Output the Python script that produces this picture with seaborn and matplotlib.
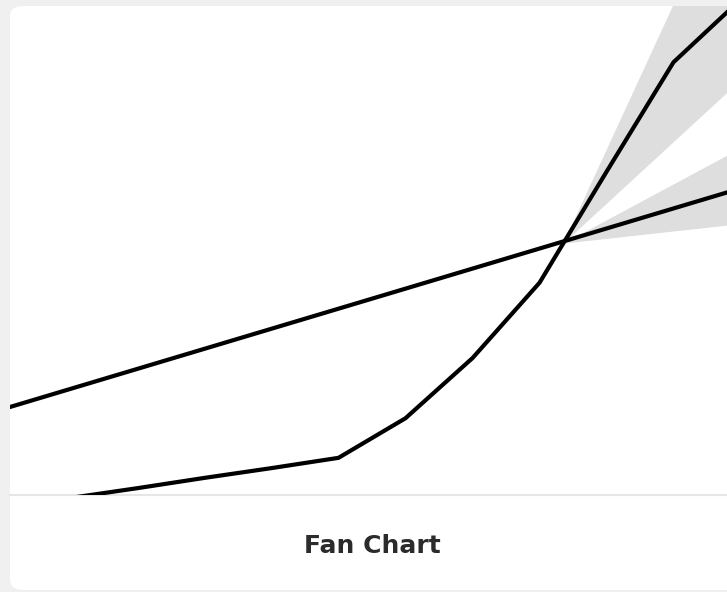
import numpy as np
import pandas as pd
import matplotlib
matplotlib.use("Agg")
import matplotlib.pyplot as plt
import seaborn as sns
from matplotlib.patches import FancyBboxPatch

# Data
periods = [0, 1, 2, 3, 4, 5, 6, 7, 8, 9, 10, 11]
series_a = [17.6, 21.7, 25.8, 29.9, 34.0, 38.1, 42.2, 46.3, 50.4, 54.5, 58.6, 62.7]
series_b = [-2.7, -0.6, 1.4, 3.5, 5.5, 7.6, 15.7, 28.0, 43.4, 66.1, 88.5, 101.3]

# fan ranges, from the forecast origin to the last period
fan_x = [8.35, 11]
fan_b_low = [51.5, 84.9]
fan_b_high = [51.5, 130.3]
fan_a_low = [51.5, 55.5]
fan_a_high = [51.5, 71.0]

df = pd.DataFrame({"period": periods, "A": series_a, "B": series_b})
long = df.melt(id_vars="period", var_name="series", value_name="value")

sns.set_style("white")
W, H = 727, 592
fig = plt.figure(figsize=(W / 100, H / 100), dpi=100)
fig.patch.set_facecolor("#f0f0f0")

# white card behind the axes
card = FancyBboxPatch((10 / W, 2 / H), 740 / W, (586 - 2) / H,
                      boxstyle="round,pad=0,rounding_size=0.018",
                      transform=fig.transFigure, facecolor="white",
                      edgecolor="none", zorder=-5)
fig.patches.append(card)

ax = fig.add_axes([10 / W, (H - 495) / H, 725 / W, 489 / H])
ax.set_facecolor("none")

ax.fill_between(fan_x, fan_b_low, fan_b_high, color="#dedede", lw=0, zorder=1)
ax.fill_between(fan_x, fan_a_low, fan_a_high, color="#dedede", lw=0, zorder=1)

sns.lineplot(data=long, x="period", y="value", units="series", estimator=None,
             color="black", linewidth=3.0, ax=ax, zorder=3,
             solid_joinstyle="round", solid_capstyle="round")

ax.set_xlim(0.097, 10.918)
ax.set_ylim(0, 100)
ax.set_xticks([])
ax.set_yticks([])
ax.set_xlabel("")
ax.set_ylabel("")
for side in ["top", "right", "left"]:
    ax.spines[side].set_visible(False)
ax.spines["bottom"].set_color("#e6e6e6")
ax.spines["bottom"].set_linewidth(1.5)
ax.spines["bottom"].set_zorder(0)

fig.text(372 / W, 1 - 546 / H, "Fan Chart", ha="center", va="center",
         fontsize=18, fontweight="bold", color="#2b2b2b", family="DejaVu Sans")

fig.savefig("out.png", dpi=100, facecolor=fig.get_facecolor())
